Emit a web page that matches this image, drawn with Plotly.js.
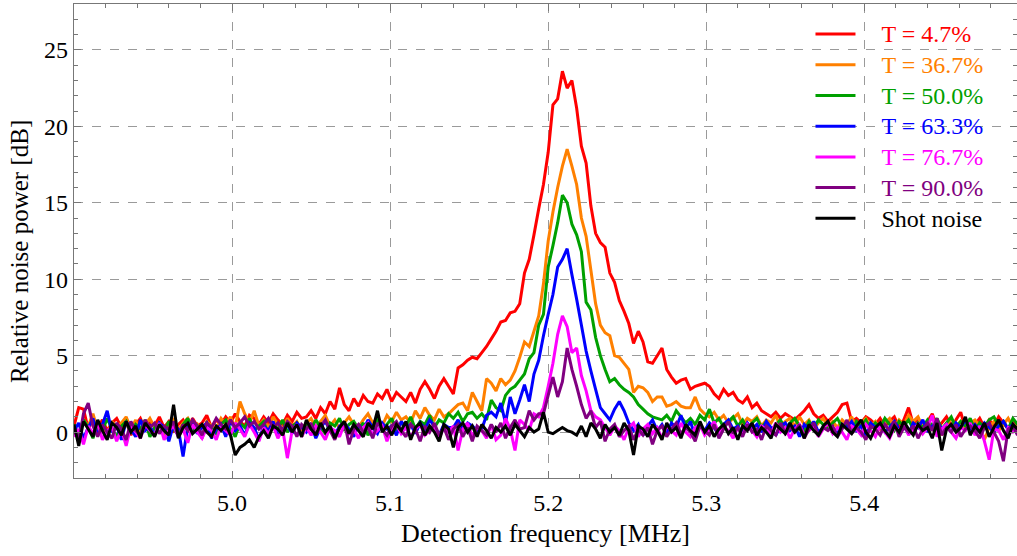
<!DOCTYPE html>
<html>
<head>
<meta charset="utf-8">
<script src="https://cdn.plot.ly/plotly-3.0.1.min.js"></script>
<style>html,body{margin:0;padding:0;background:#fff;}#chart{width:1017px;height:556px;}</style>
</head>
<body>
<div id="chart"></div>
<script>
// Sampling grid (MHz)
const freqStart = 4.900;
const freqStep = 0.003;
const nPoints = 200;

const seriesNames = ["T = 4.7%", "T = 36.7%", "T = 50.0%", "T = 63.3%", "T = 76.7%", "T = 90.0%", "Shot noise"];
const seriesColors = ["#ff0000", "#ff8000", "#00a000", "#0000ff", "#ff00ff", "#800080", "#000000"];

const t047 = [
 0.4, 1.6, 1.5, 0.2, 0.9, 0.3, 0.8, 0.1, 0.6, 0.9,
 0.3, 0.7, -0.2, 0.5, 0.9, 0.2, 0.6, 0.4, 1.0, 0.3,
 0.7, 0.1, 0.5, 0.8, 0.2, 0.9, 0.4, 0.6, 1.1, 0.3,
 0.8, 0.5, 1.0, 0.6, 1.2, 0.7, 0.4, 1.1, 0.9, 0.5,
 1.0, 0.6, 1.2, 0.8, 0.5, 1.1, 0.7, 1.3, 0.9, 1.0,
 1.4, 0.9, 1.6, 1.2, 2.0, 1.5, 2.9, 1.8, 1.4, 2.2,
 1.7, 2.4, 2.0, 1.9, 2.5, 2.2, 2.8, 2.0, 2.6, 2.3,
 2.0, 2.6, 1.9, 2.8, 3.3, 2.8, 2.2, 3.0, 3.5, 3.0,
 2.5, 4.2, 4.4, 4.7, 4.9, 4.8, 5.2, 5.6, 6.1, 6.6,
 7.2, 7.3, 7.8, 7.9, 8.4, 10.4, 11.3, 12.9, 14.6, 16.2,
 18.3, 21.4, 21.8, 23.6, 22.5, 23.0, 21.2, 18.7, 17.6, 14.8,
 13.0, 12.4, 12.1, 10.4, 9.8, 8.6, 7.9, 7.1, 5.8, 6.6,
 5.9, 4.6, 4.5, 5.0, 5.5, 4.1, 3.6, 3.2, 3.4, 3.5,
 2.8, 3.0, 3.1, 3.2, 3.0, 2.5, 2.2, 2.8, 2.4, 2.6,
 2.1, 1.9, 2.3, 1.6, 1.9, 1.4, 1.2, 1.0, 1.3, 0.9,
 1.2, 1.0, 0.8, 1.1, 1.4, 1.8, 1.2, 0.9, 1.1, 0.7,
 1.0, 1.3, 1.8, 1.9, 0.7, 0.9, 0.6, 1.0, 0.8, 0.5,
 0.9, 0.4, 0.7, 1.0, 0.3, 0.8, 1.6, 0.5, 0.9, 0.4,
 0.7, 1.2, 0.3, 0.6, 1.0, 0.4, 0.8, 1.3, 0.2, 0.7,
 0.5, 0.9, 0.3, 0.8, 0.4, 1.0, 0.6, 0.2, 0.7, 0.4
];

const t367 = [
 0.2, -0.3, 0.8, 0.4, 1.2, 0.1, 0.5, -0.2, 0.7, 0.3,
 0.6, 1.0, 0.2, 0.8, -0.1, 0.5, 0.9, 0.3, 0.6, -0.2,
 0.4, 0.8, 0.1, 0.6, 0.9, 0.2, 0.5, -0.3, 0.7, 0.4,
 0.2, 0.9, 0.5, 1.0, 0.3, 2.0, 1.2, 0.6, 1.4, 0.4,
 0.8, 0.3, 1.0, 0.5, 0.2, 0.9, 0.4, 0.7, 0.1, 0.6,
 0.9, 0.3, 0.7, 1.1, 0.4, 0.8, 0.2, 0.6, 1.0, 0.5,
 0.3, 0.8, 1.2, 0.6, 0.9, 0.4, 1.1, 0.7, 1.3, 0.8,
 1.0, 0.6, 1.4, 0.9, 1.6, 1.1, 0.8, 1.5, 1.0, 1.2,
 1.5, 1.8, 1.9, 1.4, 2.6, 2.0, 1.4, 3.5, 3.2, 2.7,
 3.5, 3.1, 3.4, 4.0, 4.9, 5.9, 5.6, 6.6, 7.6, 9.7,
 12.5, 14.4, 16.0, 17.4, 18.5, 17.4, 16.2, 14.0, 12.8, 10.6,
 8.4, 7.0, 6.5, 6.3, 5.0, 4.9, 4.5, 4.1, 2.6, 3.0,
 2.9, 2.6, 2.0, 2.3, 2.3, 1.7, 1.8, 2.0, 1.7, 1.6,
 1.6, 2.3, 1.5, 1.2, 1.0, 1.3, 0.8, 1.1, 0.6, 0.9,
 1.2, 0.5, 0.9, 0.7, 1.0, 0.4, 0.8, 0.6, 1.1, 0.3,
 0.7, 0.9, 0.4, 1.0, 0.5, 0.8, 0.2, 0.6, 0.9, 0.4,
 0.7, 0.3, 0.8, 0.5, 1.0, 0.2, 0.6, 0.9, 0.4, 0.7,
 0.1, 0.6, 0.9, 0.3, 0.8, 0.5, 1.1, 0.7, 1.0, 0.3,
 0.6, 0.2, 0.8, -0.2, 0.5, 0.9, 0.4, 0.7, 0.2, 0.6,
 0.8, 0.4, -0.5, 0.3, 0.7, 0.1, 0.5, 0.9, 0.3, 0.6
];

const t500 = [
 0.5, -0.2, 0.8, 0.3, -0.4, 0.6, 0.1, 0.9, 0.2, -0.3,
 0.4, 0.7, -0.1, 0.5, 0.2, 0.8, -0.3, 0.3, 0.6, 0.0,
 0.7, 0.2, -0.2, 0.5, 0.9, 0.1, 0.4, -0.4, 0.6, 0.3,
 -0.1, 0.5, 0.8, 0.2, -0.3, 0.6, 0.3, 0.9, 0.1, 0.4,
 0.7, -0.2, 0.5, 0.2, 0.8, 0.0, 0.4, 0.6, -0.3, 0.5,
 0.2, 0.8, 0.3, -0.1, 0.6, 0.4, 0.9, 0.1, 0.5, 0.7,
 0.2, 0.6, -0.2, 0.4, 0.8, 0.3, 0.5, 0.9, 0.1, 0.6,
 0.4, 1.0, 0.2, 0.7, 0.5, 1.1, 0.3, 0.8, 0.6, 1.2,
 0.9, 1.3, 0.7, 1.2, 1.3, 0.9, 1.2, 0.8, 2.1, 1.6,
 1.4, 2.4, 2.8, 3.0, 3.4, 3.8, 4.8, 5.2, 7.0, 7.7,
 10.8, 12.2, 13.7, 15.5, 15.0, 13.6, 12.9, 11.8, 8.5, 8.0,
 6.2, 5.0, 4.1, 3.3, 3.5, 3.1, 2.8, 2.6, 2.3, 1.8,
 1.5, 1.2, 1.0, 0.9, 0.8, 1.1, 0.7, 1.4, 1.0, 0.6,
 0.9, 0.5, 1.1, 0.8, 1.5, 0.6, 0.9, 0.3, 0.7, 1.0,
 0.4, 0.8, 0.2, 0.6, 0.9, 0.3, 0.7, 0.1, 0.5, 0.8,
 0.2, 0.6, 0.9, 0.4, 0.1, 0.7, 0.3, 0.8, 0.5, 0.2,
 0.6, 0.9, 0.3, 0.5, 0.0, 0.7, 0.4, 0.8, 0.2, 0.6,
 0.3, 0.9, 0.5, 0.1, 0.7, 0.4, 0.8, 0.2, 0.6, 0.3,
 0.8, 0.4, 0.9, 0.2, 0.6, 1.0, 0.3, 0.7, 0.4, 0.9,
 0.1, 0.6, 0.3, 0.8, 1.0, 0.4, 0.7, 0.2, 0.9, 0.5
];

const t633 = [
 0.1, 0.6, -0.4, 0.3, 0.9, -0.2, 0.5, 1.4, 0.0, 0.4,
 -0.5, 0.7, 0.2, -0.3, 0.8, 0.1, 0.4, -0.2, 0.6, 0.3,
 -0.6, 0.5, 0.2, -1.6, 0.4, 0.7, -0.1, 0.3, 0.6, -0.4,
 0.2, 0.5, -0.3, 0.8, 0.1, 0.4, -0.2, 0.6, 0.3, -0.5,
 0.4, 0.1, 0.7, -0.3, 0.2, 0.5, -0.1, 0.6, 0.3, 0.0,
 0.5, -0.4, 0.3, 0.7, 0.1, -0.2, 0.4, 0.6, 0.2, -0.3,
 0.5, 0.1, 0.8, 0.3, -0.1, 0.6, 0.2, 0.4, -0.2, 0.7,
 0.3, 0.5, -0.1, 0.6, 0.2, 0.8, 0.4, -0.2, 0.5, 0.3,
 0.3, 0.8, 0.2, 0.6, 0.4, 0.1, 0.2, 1.1, 1.3, 1.0,
 1.9, 0.6, 2.3, 1.2, 2.1, 3.1, 2.0, 3.8, 4.7, 6.3,
 7.7, 9.0, 10.8, 11.3, 12.0, 10.3, 8.7, 7.0, 5.3, 4.0,
 2.8, 1.6, 1.2, 0.8, 1.5, 2.0, 1.4, 0.6, 0.1, 0.5,
 -0.2, 0.4, 0.8, 0.1, 0.5, -0.1, 0.6, 0.3, 1.1, 0.2,
 0.7, -0.3, 0.4, 0.1, 0.6, 0.3, -0.2, 0.5, 0.8, 0.2,
 0.4, -0.1, 0.6, 0.2, 0.5, 0.0, 0.7, 0.3, -0.2, 0.4,
 0.6, 0.1, 0.4, -0.3, 0.5, 0.2, 0.7, 0.0, 0.3, 0.6,
 0.2, -0.1, 0.5, 0.3, 0.7, 0.1, 0.4, -0.2, 0.6, 0.3,
 0.5, 0.0, 0.3, 0.7, 0.2, 0.4, -0.1, 0.6, 0.3, 0.8,
 0.1, 0.4, 0.7, 0.2, 0.5, 0.0, 0.6, 0.3, 0.8, 0.2,
 0.5, 0.1, 0.6, 0.3, 0.0, 0.4, 0.7, 0.2, 0.5, 0.1
];

const t767 = [
 -0.3, 0.2, -0.8, 0.4, -0.1, 0.6, -0.5, 0.1, 0.3, -0.6,
 0.2, -0.9, 0.4, 0.0, -0.4, 0.5, 0.1, -0.2, 0.6, -0.5,
 0.1, 0.4, -0.3, 0.2, -0.7, 0.5, 0.0, -0.4, 0.3, 0.1,
 -0.5, 0.4, 0.1, -0.2, 0.6, 0.2, -0.3, 0.5, 0.0, -0.6,
 0.3, -0.1, 0.4, -0.4, 0.2, -1.7, 0.1, 0.5, -0.3, 0.3,
 -0.2, 0.4, 0.0, -0.5, 0.3, 0.1, -0.3, 0.5, -0.1, 0.2,
 -0.4, 0.3, 0.6, -0.2, 0.1, 0.4, -0.6, 0.2, 0.5, -0.1,
 0.3, -0.3, 0.2, 0.5, -0.2, 0.1, 0.4, -0.4, 0.3, 0.0,
 0.4, -1.2, 0.2, 0.6, -0.3, 0.3, 0.1, -0.4, 0.5, -0.5,
 -0.2, 0.9, 0.2, -1.2, 0.8, 0.5, 0.1, 1.2, 1.0, 1.6,
 3.0, 4.5, 6.4, 7.6, 6.9, 5.2, 5.5, 3.7, 2.7, 1.4,
 1.0, 0.8, 0.3, -0.2, 0.4, 0.1, -0.5, 0.3, 0.6, -0.3,
 0.2, 0.5, -0.1, 0.3, -0.4, 0.4, 0.1, -0.2, 0.6, 0.0,
 -0.3, 0.3, 0.5, -0.2, 0.2, 0.7, -0.1, 0.4, 0.1, -0.4,
 0.3, -0.2, 0.5, 0.1, -0.3, 0.4, 0.2, -0.1, 0.6, 0.0,
 0.3, -0.4, 0.2, 0.5, -0.2, 0.1, 0.4, -0.3, 0.2, 0.6,
 -0.1, 0.3, 0.0, -0.5, 0.4, 0.2, -0.2, 0.5, 0.1, -0.3,
 0.4, 0.0, -0.4, 0.3, 0.1, 0.6, -0.2, 0.2, 0.5, -0.1,
 0.3, 1.1, -0.3, 0.2, 0.5, 0.0, -0.4, 0.3, 0.1, 0.6,
 -0.2, 0.4, -0.6, -1.8, 0.2, 0.1, -0.5, 0.3, 0.0, 0.2
];

const t900 = [
 0.3, -0.6, 1.2, 1.9, 0.4, -0.3, 0.5, 0.0, -0.4, 0.6,
 0.2, -0.5, 0.7, 0.1, -0.2, 0.8, 0.3, 0.6, -0.1, 0.4,
 0.2, 0.7, -0.3, 0.5, 0.1, 0.8, 0.4, -0.2, 0.6, 0.3,
 0.9, 0.5, 0.2, 0.8, 0.3, 0.6, 1.0, 0.4, 0.7, 0.2,
 0.5, 0.9, 0.3, 0.6, 0.1, 0.7, 0.4, -0.3, 0.5, 0.2,
 0.6, -0.2, 0.4, 0.8, 0.1, -0.5, 0.3, 0.7, -0.8, 0.2,
 0.5, 0.0, 0.3, -0.4, 0.6, 0.2, -0.2, 0.4, 0.7, 0.1,
 -0.3, 0.5, 0.2, -0.6, 0.4, 0.0, 0.6, -0.2, 0.3, -0.5,
 0.2, 0.5, -0.3, 0.3, -0.6, 0.4, 0.1, -0.2, 0.5, 0.0,
 0.6, -0.4, 0.3, 0.8, 0.2, 0.3, 1.4, 0.8, 1.2, 1.2,
 2.4, 3.6, 2.3, 3.3, 5.5, 4.1, 3.0, 1.8, 0.9, 1.4,
 0.3, 0.7, -0.6, 0.2, 0.5, -0.3, 0.1, 0.4, -0.5, 0.2,
 -0.2, 0.3, -0.8, 0.1, 0.4, -0.3, 0.2, 0.6, -0.1, 0.3,
 0.0, -0.6, 0.4, 0.1, -0.2, 0.5, -0.4, 0.2, 0.7, -0.1,
 0.3, -0.3, 0.5, 0.0, 0.2, -0.5, 0.4, 0.1, -0.2, 0.6,
 -0.1, 0.3, 0.0, 0.5, -0.4, 0.2, 0.6, -0.2, 0.3, 0.1,
 0.4, -0.3, 0.2, 0.8, -0.1, 0.3, 0.0, -0.5, 0.4, 0.2,
 -0.2, 0.5, 0.1, 0.7, -0.3, 0.3, 0.0, 0.4, -0.4, 0.2,
 0.6, 0.1, 0.9, -0.2, 0.3, 0.0, 0.5, -0.3, 0.2, 0.4,
 0.1, -0.4, 0.3, 0.6, 0.0, -0.6, -1.9, 0.2, 0.4, -0.2
];

const shotNoise = [
 0.5, -0.9, 0.7, 0.2, -0.3, 0.8, 0.1, -0.5, 0.6, 0.3,
 -0.2, 0.7, 0.0, 0.4, -0.4, 0.6, 0.2, -0.3, 0.5, 0.1,
 -0.2, 1.8, -0.4, 0.3, 0.6, -0.1, 0.2, 0.5, 0.0, -0.3,
 0.4, 0.1, 0.5, -0.2, -1.5, -1.0, -0.8, -0.5, -1.0, -0.3,
 0.1, -0.4, 0.4, 0.2, -0.2, 0.6, 0.0, 0.5, -0.3, 0.8,
 0.2, -0.2, 0.6, 0.0, 0.4, -0.4, 0.3, 0.7, -0.1, 0.5,
 0.1, -0.3, 0.6, 0.2, 1.4, 0.0, 0.4, -0.2, 0.5, 0.1,
 0.7, -0.5, 0.3, 0.6, -0.2, 0.4, 0.0, -0.6, 0.5, 0.2,
 -1.0, 0.3, 0.6, 0.0, 0.4, -0.3, 0.5, 0.1, -0.4, 0.3,
 0.0, 0.4, -0.2, 0.5, 0.1, -0.3, 0.3, 0.0, 0.2, 1.3,
 0.0, -0.1, 0.1, 0.3, 0.1, 0.0, -0.2, 0.4, -0.3, 0.6,
 0.2, -0.4, 0.5, 0.0, 0.3, -0.2, 0.6, 0.1, -1.5, 0.4,
 0.2, -0.3, 0.5, 0.1, -0.5, 0.6, 0.0, 0.3, -0.4, 0.5,
 0.1, -0.2, 0.7, 0.0, 0.4, -0.3, 0.2, 0.5, -0.1, 0.3,
 -0.5, 0.4, 0.1, 0.6, -0.2, 0.3, 0.0, -0.4, 0.5, 0.2,
 -0.1, 0.6, 0.0, 0.3, -0.4, 0.5, 0.1, -0.2, 0.4, 0.7,
 0.0, -0.3, 0.5, 0.2, -0.1, 0.4, 0.8, 0.0, -0.4, 0.3,
 0.6, 0.1, -0.3, 0.4, 0.0, 0.7, 0.2, -0.2, 0.5, 0.1,
 0.3, -0.4, 0.6, -1.2, 0.2, 0.5, 0.0, 0.3, 1.0, -0.2,
 0.4, 0.0, 0.6, -0.3, 0.3, 0.8, 0.1, -0.4, 0.5, 0.2
];

const xTickVals = [5.0, 5.1, 5.2, 5.3, 5.4];
const xTickText = ["5.0", "5.1", "5.2", "5.3", "5.4"];
const yTickVals = [0, 5, 10, 15, 20, 25];
const yTickText = ["0", "5", "10", "15", "20", "25"];

const freq = [];
for (let i = 0; i < nPoints; i++) freq.push(+(freqStart + i * freqStep).toFixed(3));

const allSeries = [t047, t367, t500, t633, t767, t900, shotNoise];
const FONT = "Liberation Serif, Times New Roman, serif";
const GAP = "\u00a0\u00a0\u00a0\u00a0";

const traces = allSeries.map((ys, k) => ({
  type: "scatter",
  mode: "lines",
  x: freq,
  y: ys,
  name: GAP + '<span style="color:' + seriesColors[k] + ';font-size:24px">' + seriesNames[k] + '</span>',
  legendgroup: "g" + k,
  line: { color: seriesColors[k], width: 3, simplify: false },
  hoverinfo: "skip"
}));

const axisCommon = {
  showline: true, linecolor: "#777", linewidth: 1.2, mirror: "ticks",
  ticks: "inside", ticklen: 7, tickcolor: "#777", tickwidth: 1,
  showgrid: true, gridcolor: "#9a9a9a", griddash: "dash", gridwidth: 1,
  zeroline: false,
  tickfont: { family: FONT, size: 24, color: "#000" }
};

const layout = {
  width: 1017, height: 556,
  margin: { l: 74, r: 0, t: 4, b: 78, pad: 0 },
  paper_bgcolor: "#fff", plot_bgcolor: "#fff",
  font: { family: FONT, color: "#000" },
  showlegend: true,
  legend: {
    x: 0.781, xanchor: "left", y: 0.979, yanchor: "top",
    bgcolor: "rgba(0,0,0,0)", borderwidth: 0,
    font: { family: FONT, size: 21, color: "#000" },
    itemwidth: 40, tracegroupgap: 0.4
  },
  xaxis: Object.assign({}, axisCommon, {
    range: [4.9, 5.4966],
    tickmode: "array", tickvals: xTickVals, ticktext: xTickText,
    minor: { dtick: 0.02, tick0: 4.9, ticks: "inside", ticklen: 4, tickcolor: "#777", showgrid: false },
    ticklabelstandoff: 3,
    title: { text: "Detection frequency [MHz]", font: { family: FONT, size: 26, color: "#000" }, standoff: 8 }
  }),
  yaxis: Object.assign({}, axisCommon, {
    range: [-3, 28],
    tickmode: "array", tickvals: yTickVals, ticktext: yTickText,
    minor: { dtick: 1, tick0: 0, ticks: "inside", ticklen: 4, tickcolor: "#777", showgrid: false },
    ticklabelstandoff: 0,
    title: { text: "" }
  }),
  annotations: [{
    text: "Relative noise power [dB]",
    xref: "paper", yref: "paper", x: -0.0573, y: 0.479,
    xanchor: "center", yanchor: "middle", textangle: -90, showarrow: false,
    font: { family: FONT, size: 25, color: "#000" }
  }]
};

Plotly.newPlot("chart", traces, layout, { staticPlot: true, displayModeBar: false });
</script>
</body>
</html>
